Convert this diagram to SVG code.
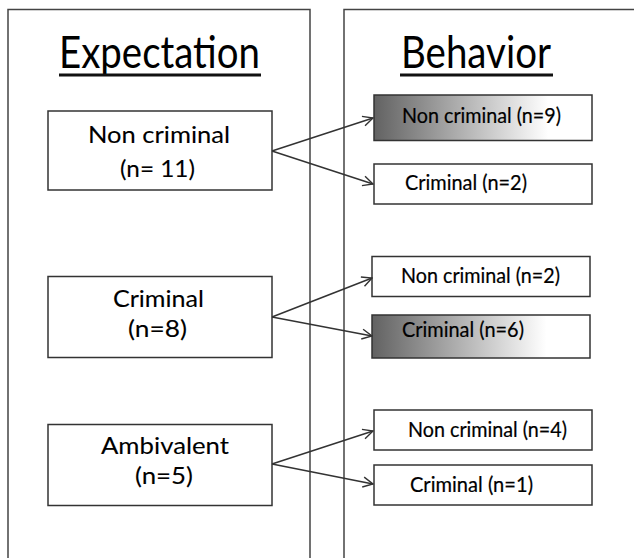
<svg xmlns="http://www.w3.org/2000/svg" width="634" height="558" viewBox="0 0 634 558">
<defs>
<linearGradient id="g" x1="0" y1="0" x2="1" y2="0">
<stop offset="0" stop-color="#626262"/>
<stop offset="0.8" stop-color="#fff"/>
<stop offset="1" stop-color="#fff"/>
</linearGradient>
<marker id="arr" viewBox="0 0 12 12" refX="11" refY="6" markerWidth="12" markerHeight="12" markerUnits="userSpaceOnUse" orient="auto">
<path d="M1,1 L11,6 L1,11" fill="none" stroke="#333" stroke-width="1.4"/>
</marker>
<style>
.panel{fill:none;stroke:#444;stroke-width:1.5}
.box{fill:#fff;stroke:#333;stroke-width:1.5}
.gbox{fill:url(#g);stroke:#333;stroke-width:1.5}
.title{font-family:Lato,"Open Sans",sans-serif;font-size:44px;fill:#000}
.etxt{font-family:Lato,"Open Sans",sans-serif;font-size:24px;fill:#000;stroke:#000;stroke-width:0.1}
.btxt{font-family:Lato,"Open Sans",sans-serif;font-size:20.5px;fill:#000;stroke:#000;stroke-width:0.2}
.ul{stroke:#111;stroke-width:3}
.con{stroke:#333;stroke-width:1.5;fill:none;marker-end:url(#arr)}
</style>
</defs>
<rect width="634" height="558" fill="#fff"/>
<g id="panel-expectation">
<path class="panel" d="M8,558 V9.5 H310 V558"/>
<text class="title" x="59" y="68" textLength="201" lengthAdjust="spacingAndGlyphs">Expectation</text>
<line class="ul" x1="59" y1="75" x2="261" y2="75"/>
</g>
<g id="panel-behavior">
<path class="panel" d="M344,558 V9.5 H634"/>
<text class="title" x="401" y="68" textLength="150" lengthAdjust="spacingAndGlyphs">Behavior</text>
<line class="ul" x1="400" y1="75" x2="553" y2="75"/>
</g>
<g id="exp-noncriminal">
<rect class="box" x="48" y="111" width="224" height="79"/>
<text class="etxt" x="88" y="143" textLength="142" lengthAdjust="spacingAndGlyphs">Non criminal</text>
<text class="etxt" x="120" y="177" textLength="75" lengthAdjust="spacingAndGlyphs">(n= 11)</text>
</g>
<g id="exp-criminal">
<rect class="box" x="48" y="276.5" width="224" height="81"/>
<text class="etxt" x="113" y="307" textLength="91" lengthAdjust="spacingAndGlyphs">Criminal</text>
<text class="etxt" x="128" y="337" textLength="59" lengthAdjust="spacingAndGlyphs">(n=8)</text>
</g>
<g id="exp-ambivalent">
<rect class="box" x="48" y="424.5" width="224" height="81"/>
<text class="etxt" x="101" y="454" textLength="128" lengthAdjust="spacingAndGlyphs">Ambivalent</text>
<text class="etxt" x="135" y="484" textLength="58" lengthAdjust="spacingAndGlyphs">(n=5)</text>
</g>
<g id="beh-1-noncriminal">
<rect class="gbox" x="374" y="95" width="218" height="45.5"/>
<text class="btxt" x="402" y="123" textLength="159" lengthAdjust="spacingAndGlyphs">Non criminal (n=9)</text>
</g>
<g id="beh-1-criminal">
<rect class="box" x="374" y="164" width="218" height="40"/>
<text class="btxt" x="405" y="190" textLength="122" lengthAdjust="spacingAndGlyphs">Criminal (n=2)</text>
</g>
<g id="beh-2-noncriminal">
<rect class="box" x="372" y="256.5" width="218" height="40"/>
<text class="btxt" x="401" y="283" textLength="159" lengthAdjust="spacingAndGlyphs">Non criminal (n=2)</text>
</g>
<g id="beh-2-criminal">
<rect class="gbox" x="372" y="315" width="218" height="43"/>
<text class="btxt" x="402" y="337" textLength="122" lengthAdjust="spacingAndGlyphs">Criminal (n=6)</text>
</g>
<g id="beh-3-noncriminal">
<rect class="box" x="374" y="410" width="218" height="40"/>
<text class="btxt" x="408" y="437" textLength="159" lengthAdjust="spacingAndGlyphs">Non criminal (n=4)</text>
</g>
<g id="beh-3-criminal">
<rect class="box" x="374" y="465" width="218" height="40"/>
<text class="btxt" x="410" y="492" textLength="123" lengthAdjust="spacingAndGlyphs">Criminal (n=1)</text>
</g>
<g id="connectors">
<line class="con" x1="272" y1="151" x2="373" y2="118"/>
<line class="con" x1="272" y1="151" x2="373" y2="184"/>
<line class="con" x1="272" y1="317" x2="372" y2="278"/>
<line class="con" x1="272" y1="317" x2="372" y2="336"/>
<line class="con" x1="272" y1="464" x2="373" y2="431"/>
<line class="con" x1="272" y1="464" x2="373" y2="484"/>
</g>
</svg>
